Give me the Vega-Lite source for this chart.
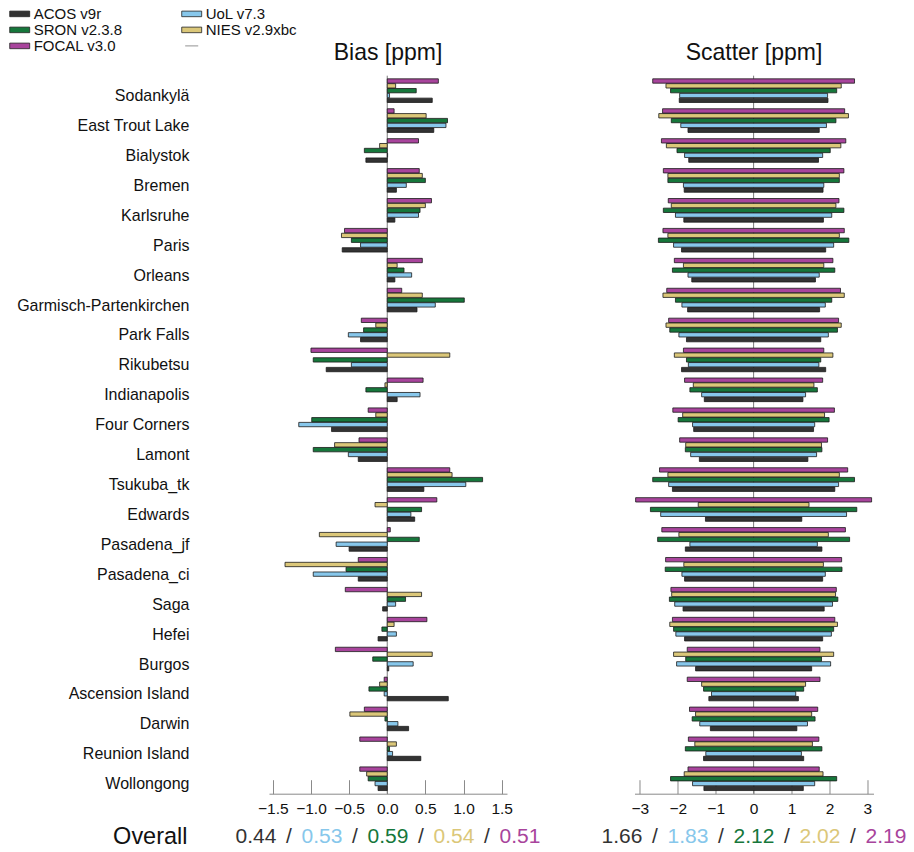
{
  "$schema": "https://vega.github.io/schema/vega-lite/v6.json",
  "background": "white",
  "padding": {"left": 11, "top": 5.7, "right": 5, "bottom": 0},
  "config": {
    "view": {"stroke": null},
    "font": "Liberation Sans",
    "axis": {"labelFont": "Liberation Sans", "labelColor": "#111111", "grid": false, "labelOverlap": false},
    "title": {"font": "Liberation Sans", "fontWeight": "normal", "fontSize": 23, "color": "#111111"}
  },
  "datasets": {
    "sites": [
      {"site": "Sodankylä", "product": "ACOS v9r", "bias": 0.59, "scatter": 1.96},
      {"site": "Sodankylä", "product": "UoL v7.3", "bias": 0.03, "scatter": 1.95},
      {"site": "Sodankylä", "product": "SRON v2.3.8", "bias": 0.38, "scatter": 2.19},
      {"site": "Sodankylä", "product": "NIES v2.9xbc", "bias": 0.11, "scatter": 2.31},
      {"site": "Sodankylä", "product": "FOCAL v3.0", "bias": 0.67, "scatter": 2.66},
      {"site": "East Trout Lake", "product": "ACOS v9r", "bias": 0.61, "scatter": 1.73},
      {"site": "East Trout Lake", "product": "UoL v7.3", "bias": 0.77, "scatter": 1.92},
      {"site": "East Trout Lake", "product": "SRON v2.3.8", "bias": 0.79, "scatter": 2.17},
      {"site": "East Trout Lake", "product": "NIES v2.9xbc", "bias": 0.51, "scatter": 2.5},
      {"site": "East Trout Lake", "product": "FOCAL v3.0", "bias": 0.09, "scatter": 2.4},
      {"site": "Bialystok", "product": "ACOS v9r", "bias": -0.28, "scatter": 1.71},
      {"site": "Bialystok", "product": "UoL v7.3", "bias": 0.005, "scatter": 1.82},
      {"site": "Bialystok", "product": "SRON v2.3.8", "bias": -0.3, "scatter": 2.02},
      {"site": "Bialystok", "product": "NIES v2.9xbc", "bias": -0.1, "scatter": 2.3},
      {"site": "Bialystok", "product": "FOCAL v3.0", "bias": 0.41, "scatter": 2.43},
      {"site": "Bremen", "product": "ACOS v9r", "bias": 0.12, "scatter": 1.83},
      {"site": "Bremen", "product": "UoL v7.3", "bias": 0.25, "scatter": 1.85},
      {"site": "Bremen", "product": "SRON v2.3.8", "bias": 0.5, "scatter": 2.26},
      {"site": "Bremen", "product": "NIES v2.9xbc", "bias": 0.46, "scatter": 2.26},
      {"site": "Bremen", "product": "FOCAL v3.0", "bias": 0.42, "scatter": 2.38},
      {"site": "Karlsruhe", "product": "ACOS v9r", "bias": 0.1, "scatter": 1.84},
      {"site": "Karlsruhe", "product": "UoL v7.3", "bias": 0.41, "scatter": 2.06},
      {"site": "Karlsruhe", "product": "SRON v2.3.8", "bias": 0.43, "scatter": 2.38},
      {"site": "Karlsruhe", "product": "NIES v2.9xbc", "bias": 0.5, "scatter": 2.17},
      {"site": "Karlsruhe", "product": "FOCAL v3.0", "bias": 0.58, "scatter": 2.25},
      {"site": "Paris", "product": "ACOS v9r", "bias": -0.59, "scatter": 1.9},
      {"site": "Paris", "product": "UoL v7.3", "bias": -0.35, "scatter": 2.11},
      {"site": "Paris", "product": "SRON v2.3.8", "bias": -0.47, "scatter": 2.51},
      {"site": "Paris", "product": "NIES v2.9xbc", "bias": -0.6, "scatter": 2.26},
      {"site": "Paris", "product": "FOCAL v3.0", "bias": -0.56, "scatter": 2.39},
      {"site": "Orleans", "product": "ACOS v9r", "bias": 0.1, "scatter": 1.63},
      {"site": "Orleans", "product": "UoL v7.3", "bias": 0.32, "scatter": 1.73},
      {"site": "Orleans", "product": "SRON v2.3.8", "bias": 0.22, "scatter": 2.14},
      {"site": "Orleans", "product": "NIES v2.9xbc", "bias": 0.13, "scatter": 1.85},
      {"site": "Orleans", "product": "FOCAL v3.0", "bias": 0.46, "scatter": 2.09},
      {"site": "Garmisch-Partenkirchen", "product": "ACOS v9r", "bias": 0.39, "scatter": 1.74},
      {"site": "Garmisch-Partenkirchen", "product": "UoL v7.3", "bias": 0.63, "scatter": 1.89},
      {"site": "Garmisch-Partenkirchen", "product": "SRON v2.3.8", "bias": 1.01, "scatter": 2.06},
      {"site": "Garmisch-Partenkirchen", "product": "NIES v2.9xbc", "bias": 0.46, "scatter": 2.39},
      {"site": "Garmisch-Partenkirchen", "product": "FOCAL v3.0", "bias": 0.19, "scatter": 2.29},
      {"site": "Park Falls", "product": "ACOS v9r", "bias": -0.35, "scatter": 1.77},
      {"site": "Park Falls", "product": "UoL v7.3", "bias": -0.51, "scatter": 1.97},
      {"site": "Park Falls", "product": "SRON v2.3.8", "bias": -0.31, "scatter": 2.21},
      {"site": "Park Falls", "product": "NIES v2.9xbc", "bias": -0.15, "scatter": 2.31},
      {"site": "Park Falls", "product": "FOCAL v3.0", "bias": -0.34, "scatter": 2.24},
      {"site": "Rikubetsu", "product": "ACOS v9r", "bias": -0.8, "scatter": 1.9},
      {"site": "Rikubetsu", "product": "UoL v7.3", "bias": -0.47, "scatter": 1.72},
      {"site": "Rikubetsu", "product": "SRON v2.3.8", "bias": -0.97, "scatter": 1.77},
      {"site": "Rikubetsu", "product": "NIES v2.9xbc", "bias": 0.82, "scatter": 2.09},
      {"site": "Rikubetsu", "product": "FOCAL v3.0", "bias": -1.0, "scatter": 1.85},
      {"site": "Indianapolis", "product": "ACOS v9r", "bias": 0.13, "scatter": 1.3},
      {"site": "Indianapolis", "product": "UoL v7.3", "bias": 0.43, "scatter": 1.37},
      {"site": "Indianapolis", "product": "SRON v2.3.8", "bias": -0.28, "scatter": 1.68},
      {"site": "Indianapolis", "product": "NIES v2.9xbc", "bias": -0.03, "scatter": 1.59},
      {"site": "Indianapolis", "product": "FOCAL v3.0", "bias": 0.47, "scatter": 1.82},
      {"site": "Four Corners", "product": "ACOS v9r", "bias": -0.73, "scatter": 1.58},
      {"site": "Four Corners", "product": "UoL v7.3", "bias": -1.16, "scatter": 1.61},
      {"site": "Four Corners", "product": "SRON v2.3.8", "bias": -0.99, "scatter": 1.99},
      {"site": "Four Corners", "product": "NIES v2.9xbc", "bias": -0.15, "scatter": 1.87},
      {"site": "Four Corners", "product": "FOCAL v3.0", "bias": -0.25, "scatter": 2.13},
      {"site": "Lamont", "product": "ACOS v9r", "bias": -0.38, "scatter": 1.43},
      {"site": "Lamont", "product": "UoL v7.3", "bias": -0.51, "scatter": 1.66},
      {"site": "Lamont", "product": "SRON v2.3.8", "bias": -0.97, "scatter": 1.8},
      {"site": "Lamont", "product": "NIES v2.9xbc", "bias": -0.69, "scatter": 1.79},
      {"site": "Lamont", "product": "FOCAL v3.0", "bias": -0.37, "scatter": 1.95},
      {"site": "Tsukuba_tk", "product": "ACOS v9r", "bias": 0.48, "scatter": 2.14},
      {"site": "Tsukuba_tk", "product": "UoL v7.3", "bias": 1.03, "scatter": 2.24},
      {"site": "Tsukuba_tk", "product": "SRON v2.3.8", "bias": 1.25, "scatter": 2.66},
      {"site": "Tsukuba_tk", "product": "NIES v2.9xbc", "bias": 0.85, "scatter": 2.26},
      {"site": "Tsukuba_tk", "product": "FOCAL v3.0", "bias": 0.82, "scatter": 2.48},
      {"site": "Edwards", "product": "ACOS v9r", "bias": 0.36, "scatter": 1.27},
      {"site": "Edwards", "product": "UoL v7.3", "bias": 0.31, "scatter": 2.45},
      {"site": "Edwards", "product": "SRON v2.3.8", "bias": 0.45, "scatter": 2.72},
      {"site": "Edwards", "product": "NIES v2.9xbc", "bias": -0.16, "scatter": 1.46},
      {"site": "Edwards", "product": "FOCAL v3.0", "bias": 0.65, "scatter": 3.11},
      {"site": "Pasadena_jf", "product": "ACOS v9r", "bias": -0.5, "scatter": 1.8},
      {"site": "Pasadena_jf", "product": "UoL v7.3", "bias": -0.67, "scatter": 1.68},
      {"site": "Pasadena_jf", "product": "SRON v2.3.8", "bias": 0.42, "scatter": 2.53},
      {"site": "Pasadena_jf", "product": "NIES v2.9xbc", "bias": -0.89, "scatter": 1.97},
      {"site": "Pasadena_jf", "product": "FOCAL v3.0", "bias": 0.04, "scatter": 2.42},
      {"site": "Pasadena_ci", "product": "ACOS v9r", "bias": -0.38, "scatter": 1.82},
      {"site": "Pasadena_ci", "product": "UoL v7.3", "bias": -0.97, "scatter": 1.89},
      {"site": "Pasadena_ci", "product": "SRON v2.3.8", "bias": -0.54, "scatter": 2.33},
      {"site": "Pasadena_ci", "product": "NIES v2.9xbc", "bias": -1.34, "scatter": 1.84},
      {"site": "Pasadena_ci", "product": "FOCAL v3.0", "bias": -0.38, "scatter": 2.32},
      {"site": "Saga", "product": "ACOS v9r", "bias": -0.06, "scatter": 1.86},
      {"site": "Saga", "product": "UoL v7.3", "bias": 0.11, "scatter": 2.08},
      {"site": "Saga", "product": "SRON v2.3.8", "bias": 0.24, "scatter": 2.22},
      {"site": "Saga", "product": "NIES v2.9xbc", "bias": 0.45, "scatter": 2.16},
      {"site": "Saga", "product": "FOCAL v3.0", "bias": -0.55, "scatter": 2.18},
      {"site": "Hefei", "product": "ACOS v9r", "bias": -0.12, "scatter": 1.82},
      {"site": "Hefei", "product": "UoL v7.3", "bias": 0.12, "scatter": 2.05},
      {"site": "Hefei", "product": "SRON v2.3.8", "bias": -0.07, "scatter": 2.11},
      {"site": "Hefei", "product": "NIES v2.9xbc", "bias": 0.09, "scatter": 2.21},
      {"site": "Hefei", "product": "FOCAL v3.0", "bias": 0.52, "scatter": 2.14},
      {"site": "Burgos", "product": "ACOS v9r", "bias": 0.02, "scatter": 1.53},
      {"site": "Burgos", "product": "UoL v7.3", "bias": 0.34, "scatter": 2.03},
      {"site": "Burgos", "product": "SRON v2.3.8", "bias": -0.19, "scatter": 1.79},
      {"site": "Burgos", "product": "NIES v2.9xbc", "bias": 0.59, "scatter": 2.11},
      {"site": "Burgos", "product": "FOCAL v3.0", "bias": -0.68, "scatter": 1.75},
      {"site": "Ascension Island", "product": "ACOS v9r", "bias": 0.8, "scatter": 1.18},
      {"site": "Ascension Island", "product": "UoL v7.3", "bias": -0.04, "scatter": 1.11},
      {"site": "Ascension Island", "product": "SRON v2.3.8", "bias": -0.24, "scatter": 1.32},
      {"site": "Ascension Island", "product": "NIES v2.9xbc", "bias": -0.1, "scatter": 1.37},
      {"site": "Ascension Island", "product": "FOCAL v3.0", "bias": -0.04, "scatter": 1.75},
      {"site": "Darwin", "product": "ACOS v9r", "bias": 0.28, "scatter": 1.14},
      {"site": "Darwin", "product": "UoL v7.3", "bias": 0.14, "scatter": 1.42},
      {"site": "Darwin", "product": "SRON v2.3.8", "bias": -0.03, "scatter": 1.62},
      {"site": "Darwin", "product": "NIES v2.9xbc", "bias": -0.49, "scatter": 1.53},
      {"site": "Darwin", "product": "FOCAL v3.0", "bias": -0.3, "scatter": 1.69},
      {"site": "Reunion Island", "product": "ACOS v9r", "bias": 0.44, "scatter": 1.32},
      {"site": "Reunion Island", "product": "UoL v7.3", "bias": 0.07, "scatter": 1.26},
      {"site": "Reunion Island", "product": "SRON v2.3.8", "bias": 0.03, "scatter": 1.8},
      {"site": "Reunion Island", "product": "NIES v2.9xbc", "bias": 0.12, "scatter": 1.55},
      {"site": "Reunion Island", "product": "FOCAL v3.0", "bias": -0.36, "scatter": 1.72},
      {"site": "Wollongong", "product": "ACOS v9r", "bias": -0.12, "scatter": 1.31},
      {"site": "Wollongong", "product": "UoL v7.3", "bias": -0.16, "scatter": 1.61},
      {"site": "Wollongong", "product": "SRON v2.3.8", "bias": -0.25, "scatter": 2.19},
      {"site": "Wollongong", "product": "NIES v2.9xbc", "bias": -0.27, "scatter": 1.83},
      {"site": "Wollongong", "product": "FOCAL v3.0", "bias": -0.36, "scatter": 1.73}
    ],
    "overall_bias": [
      {"product": "ACOS v9r", "value": 0.44},
      {"product": "UoL v7.3", "value": 0.53},
      {"product": "SRON v2.3.8", "value": 0.59},
      {"product": "NIES v2.9xbc", "value": 0.54},
      {"product": "FOCAL v3.0", "value": 0.51}
    ],
    "overall_scatter": [
      {"product": "ACOS v9r", "value": 1.66},
      {"product": "UoL v7.3", "value": 1.83},
      {"product": "SRON v2.3.8", "value": 2.12},
      {"product": "NIES v2.9xbc", "value": 2.02},
      {"product": "FOCAL v3.0", "value": 2.19}
    ]
  },
  "bounds": "full",
  "spacing": 36,
  "resolve": {"scale": {"color": "shared"}},
  "hconcat": [
    {
      "bounds": "flush",
      "center": true,
      "spacing": 28,
      "vconcat": [
        {
          "data": {"name": "sites"},
          "width": 238,
          "height": 718,
          "title": {"text": "Bias [ppm]", "baseline": "alphabetic", "offset": -7.5},
          "resolve": {"axis": {"x": "independent"}},
          "layer": [
            {
              "data": {"values": [{}]},
              "mark": {"type": "rule", "color": "#7a7a7a", "strokeWidth": 1},
              "encoding": {
                "x": {
                  "datum": 0, "type": "quantitative",
                  "axis": {"orient": "bottom", "title": null, "values": [-1.5, -1, -0.5, 0, 0.5, 1, 1.5], "domain": false, "labels": false, "ticks": true, "tickSize": 14, "offset": -14, "tickColor": "#8a8a8a", "tickWidth": 1}
                }
              }
            },
            {
              "mark": {"type": "bar", "stroke": "#1a1a1a", "strokeWidth": 0.8},
              "encoding": {
                "y": {
                  "field": "site", "type": "nominal", "sort": null,
                  "scale": {"paddingInner": 0.21, "paddingOuter": 0.105},
                  "axis": {"title": null, "domain": false, "ticks": false, "labelPadding": 80, "labelFontSize": 16, "labelOffset": 5.5, "labelColor": "#111111"}
                },
                "yOffset": {
                  "field": "product", "type": "nominal",
                  "scale": {"domain": ["FOCAL v3.0", "NIES v2.9xbc", "SRON v2.3.8", "UoL v7.3", "ACOS v9r"], "paddingInner": 0.1, "paddingOuter": 0}
                },
                "x": {
                  "field": "bias", "type": "quantitative",
                  "scale": {"domain": [-1.55, 1.57], "nice": false, "zero": false},
                  "axis": {"orient": "bottom", "title": null, "values": [-1.5, -1, -0.5, 0, 0.5, 1, 1.5], "format": ".1f", "ticks": false, "domain": true, "domainColor": "#8a8a8a", "labelFontSize": 15.5, "labelPadding": 8, "labelColor": "#111111", "labelFlush": false, "labelOverlap": false}
                },
                "color": {
                  "field": "product", "type": "nominal",
                  "scale": {
                    "domain": ["ACOS v9r", "SRON v2.3.8", "FOCAL v3.0", "UoL v7.3", "NIES v2.9xbc", " "],
                    "range": ["#333333", "#16773b", "#a8449c", "#87c7eb", "#dbc779", "#888888"]
                  },
                  "legend": {
                    "title": null,
                    "orient": "none",
                    "legendX": -211.3,
                    "legendY": -69.8,
                    "columns": 2,
                    "columnPadding": 57,
                    "rowPadding": 0,
                    "padding": 0,
                    "labelFont": "Liberation Sans",
                    "labelFontSize": 15,
                    "labelColor": "#111111",
                    "labelOffset": 6,
                    "symbolSize": 225,
                    "symbolType": "M-1.33,-0.37H1.33V0.37H-1.33Z",
                    "symbolStrokeColor": "#222222",
                    "symbolStrokeWidth": 0.8,
                    "symbolOpacity": 1,
                    "labelExpr": "datum.value === ' ' ? '' : datum.label",
                    "encode": {
                      "symbols": {
                        "update": {
                          "shape": [{"test": "datum.value === ' '", "value": "M-0.87,0H0.87"}, {"value": "M-1.33,-0.37H1.33V0.37H-1.33Z"}],
                          "stroke": [{"test": "datum.value === ' '", "value": "#777777"}, {"value": "#222222"}],
                          "strokeWidth": {"value": 0.8}
                        }
                      }
                    }
                  }
                }
              }
            }
          ]
        },
        {
          "data": {"name": "overall_bias"},
          "width": 330,
          "height": 30,
          "encoding": {
            "y": {"datum": "Overall", "type": "nominal", "axis": {"title": null, "domain": false, "ticks": false, "labelFontSize": 23.5, "labelPadding": 36, "labelColor": "#111111"}},
            "x": {"field": "product", "type": "nominal", "scale": {"domain": ["ACOS v9r", "UoL v7.3", "SRON v2.3.8", "NIES v2.9xbc", "FOCAL v3.0"], "paddingInner": 0, "paddingOuter": 0}, "axis": null}
          },
          "layer": [
            {
              "mark": {"type": "text", "fontSize": 21},
              "encoding": {
                "text": {"field": "value", "type": "quantitative", "format": ".2f"},
                "color": {"field": "product", "type": "nominal", "legend": null}
              }
            },
            {
              "transform": [{"filter": "datum.product !== 'ACOS v9r'"}],
              "mark": {"type": "text", "fontSize": 21, "color": "#333333", "dx": -33},
              "encoding": {"text": {"value": "/"}}
            }
          ]
        }
      ]
    },
    {
      "bounds": "flush",
      "center": true,
      "spacing": 28,
      "vconcat": [
        {
          "data": {"name": "sites"},
          "width": 239,
          "height": 718,
          "title": {"text": "Scatter [ppm]", "baseline": "alphabetic", "offset": -7.5},
          "resolve": {"axis": {"x": "independent"}},
          "layer": [
            {
              "data": {"values": [{}]},
              "mark": {"type": "rule", "color": "#7a7a7a", "strokeWidth": 1},
              "encoding": {
                "x": {
                  "datum": 0, "type": "quantitative",
                  "axis": {"orient": "bottom", "title": null, "values": [-3, -2, -1, 0, 1, 2, 3], "domain": false, "labels": false, "ticks": true, "tickSize": 14, "offset": -14, "tickColor": "#8a8a8a", "tickWidth": 1}
                }
              }
            },
            {
              "transform": [{"calculate": "-datum.scatter", "as": "scatter_left"}],
              "mark": {"type": "bar", "stroke": "#1a1a1a", "strokeWidth": 0.8},
              "encoding": {
                "y": {
                  "field": "site", "type": "nominal", "sort": null,
                  "scale": {"paddingInner": 0.21, "paddingOuter": 0.105},
                  "axis": null
                },
                "yOffset": {
                  "field": "product", "type": "nominal",
                  "scale": {"domain": ["FOCAL v3.0", "NIES v2.9xbc", "SRON v2.3.8", "UoL v7.3", "ACOS v9r"], "paddingInner": 0.1, "paddingOuter": 0}
                },
                "x": {
                  "field": "scatter_left", "type": "quantitative",
                  "scale": {"domain": [-3.14, 3.16], "nice": false, "zero": false},
                  "axis": {"orient": "bottom", "title": null, "values": [-3, -2, -1, 0, 1, 2, 3], "format": "d", "ticks": false, "domain": true, "domainColor": "#8a8a8a", "labelFontSize": 15.5, "labelPadding": 8, "labelColor": "#111111", "labelFlush": false, "labelOverlap": false}
                },
                "x2": {"field": "scatter"},
                "color": {"field": "product", "type": "nominal", "legend": null}
              }
            }
          ]
        },
        {
          "data": {"name": "overall_scatter"},
          "width": 330,
          "height": 30,
          "encoding": {
            "y": {"datum": "Overall", "type": "nominal", "axis": null},
            "x": {"field": "product", "type": "nominal", "scale": {"domain": ["ACOS v9r", "UoL v7.3", "SRON v2.3.8", "NIES v2.9xbc", "FOCAL v3.0"], "paddingInner": 0, "paddingOuter": 0}, "axis": null}
          },
          "layer": [
            {
              "mark": {"type": "text", "fontSize": 21},
              "encoding": {
                "text": {"field": "value", "type": "quantitative", "format": ".2f"},
                "color": {"field": "product", "type": "nominal", "legend": null}
              }
            },
            {
              "transform": [{"filter": "datum.product !== 'ACOS v9r'"}],
              "mark": {"type": "text", "fontSize": 21, "color": "#333333", "dx": -33},
              "encoding": {"text": {"value": "/"}}
            }
          ]
        }
      ]
    }
  ]
}
